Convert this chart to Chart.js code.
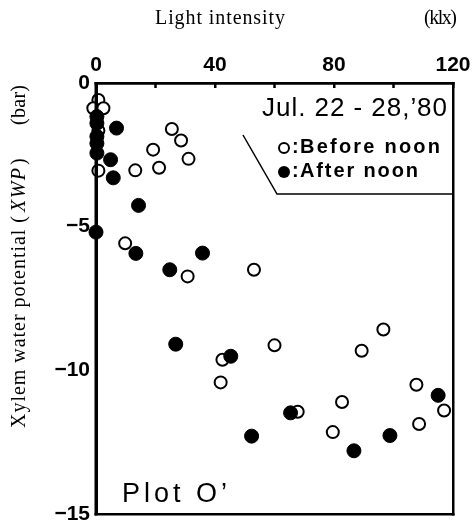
<!DOCTYPE html>
<html>
<head>
<meta charset="utf-8">
<script src="https://cdn.jsdelivr.net/npm/chart.js@4.4.1/dist/chart.umd.min.js"></script>
<style>
  html, body { margin: 0; padding: 0; background: #fff; overflow: hidden; }
  #wrap { width: 474px; height: 530px; position: relative; }
  #frame {
    position: absolute; left: 95px; top: 82px; width: 359px; height: 433px;
    box-sizing: border-box; border: 2px solid #000; border-left-width: 3px;
    pointer-events: none;
  }
</style>
</head>
<body>
<div id="wrap"><canvas id="xwp-chart"></canvas><div id="frame"></div></div>
<script>
// light intensity (klx) vs xylem water potential (bar)
const beforeX = [0.8, -0.9, 2.5, 0.8, 0.8, 25.5, 28.6, 19.2, 31.1, 13.2, 21.2, 9.8, 30.8, 53.1, 42.5, 60.0, 96.6, 89.3, 41.9, 107.7, 117.0, 82.7, 67.8, 79.6, 108.6];
const beforeY = [-0.59, -0.88, -0.88, -1.66, -3.05, -1.6, -2.0, -2.32, -2.64, -3.04, -2.95, -5.58, -6.73, -6.5, -9.63, -9.13, -8.58, -9.32, -10.42, -10.5, -11.4, -11.1, -11.44, -12.15, -11.87];
const afterX  = [0.3, 0.3, 0.3, 0.3, 0.3, 6.9, 4.9, 5.8, 14.3, 0, 13.4, 35.8, 24.8, 26.8, 45.3, 115.0, 65.4, 52.3, 98.8, 86.7];
const afterY  = [-1.17, -1.4, -1.86, -2.1, -2.44, -1.57, -2.67, -3.3, -4.26, -5.19, -5.93, -5.92, -6.5, -9.09, -9.51, -10.87, -11.48, -12.29, -12.27, -12.8];
const xTicks  = [0, 20, 40, 60, 80, 100, 120];   // labelled every 40
const yTicks  = [0, -5, -10, -15];

const seriesNames = ['Before noon', 'After noon'];
const dateLabel   = 'Jul. 22 - 28,\u201980';
const plotLabel   = 'Plot O\u2019';

const toPts = (xs, ys) => xs.map((x, i) => ({ x, y: ys[i] }));

const SANS  = '"Liberation Sans", Arial, sans-serif';
const SERIF = '"Liberation Serif", "Times New Roman", serif';

// draw text char by char so it spreads over a given width
function spacedText(ctx, txt, x, y, width) {
  const chars = [...txt];
  const ws = chars.map(c => ctx.measureText(c).width);
  const total = ws.reduce((s, w) => s + w, 0);
  const sp = chars.length > 1 ? (width - total) / (chars.length - 1) : 0;
  let cx = x;
  chars.forEach((c, i) => { ctx.fillText(c, cx, y); cx += ws[i] + sp; });
}

const decor = {
  id: 'decor',
  afterDraw(chart) {
    const { ctx, chartArea: a, scales: { x } } = chart;
    const L = Math.round(a.left), R = Math.round(a.right), T = Math.round(a.top), B = Math.round(a.bottom);
    ctx.save();
    ctx.fillStyle = '#000';
    ctx.strokeStyle = '#000';

    // axis titles
    ctx.textBaseline = 'middle';
    ctx.textAlign = 'left';
    ctx.font = '20px ' + SERIF;
    spacedText(ctx, 'Light intensity', 155, 19, 130);
    spacedText(ctx, '(klx)', 424, 19, 33);

    ctx.save();
    ctx.translate(20, 0);
    ctx.rotate(-Math.PI / 2);
    ctx.font = '20px ' + SERIF;
    spacedText(ctx, 'Xylem water potential (', -428, 0, 212);
    ctx.font = 'italic 20px ' + SERIF;
    spacedText(ctx, 'XWP', -212, 0, 44);
    ctx.font = '20px ' + SERIF;
    ctx.fillText(')', -165, 0);
    spacedText(ctx, '(bar)', -125, 0, 40);
    ctx.restore();

    ctx.font = '500 26px ' + SANS;
    spacedText(ctx, dateLabel, 262, 109, 185);

    // legend markers + labels
    ctx.lineWidth = 2;
    ctx.beginPath(); ctx.arc(284, 148, 5, 0, Math.PI * 2); ctx.stroke();
    ctx.beginPath(); ctx.arc(284, 172, 6, 0, Math.PI * 2); ctx.fill();
    ctx.font = 'bold 20px ' + SANS;
    ctx.fillText(':', 292, 147);
    ctx.fillText(':', 292, 171);
    spacedText(ctx, seriesNames[0], 300, 147, 140);
    spacedText(ctx, seriesNames[1], 300, 171, 118);

    ctx.font = '27px ' + SANS;
    spacedText(ctx, plotLabel, 122, 495, 105);

    // legend box outline
    ctx.lineWidth = 1.5;
    ctx.beginPath();
    ctx.moveTo(243, 135); ctx.lineTo(277, 194); ctx.lineTo(R, 194);
    ctx.stroke();

    // frame + inward top ticks
    ctx.fillRect(L - 1.5, T - 1, R - L + 3, 2.5);
    ctx.fillRect(L - 1.5, B - 1, R - L + 3, 2.5);
    ctx.fillRect(L - 1.5, T - 1, 3, B - T + 2.5);
    ctx.fillRect(R - 1, T - 1, 2.5, B - T + 2.5);
    xTicks.forEach(v => {
      const px = x.getPixelForValue(v);
      ctx.fillRect(px - 1, T, 2, 5);
    });

    ctx.restore();
  }
};

new Chart(document.getElementById('xwp-chart'), {
  type: 'scatter',
  data: {
    datasets: [
      {
        label: seriesNames[1],
        data: toPts(afterX, afterY),
        pointStyle: 'circle', pointRadius: 7, pointHoverRadius: 7,
        backgroundColor: '#000', borderColor: '#000', borderWidth: 1
      },
      {
        label: seriesNames[0],
        data: toPts(beforeX, beforeY),
        pointStyle: 'circle', pointRadius: 6, pointHoverRadius: 6,
        backgroundColor: '#fff', borderColor: '#000', borderWidth: 2
      }
    ]
  },
  options: {
    responsive: true, maintainAspectRatio: false,
    animation: false,
    events: [],
    clip: false,
    layout: { padding: { left: 0, top: 0, right: 21, bottom: 16 } },
    plugins: { legend: { display: false }, tooltip: { enabled: false } },
    scales: {
      x: {
        type: 'linear', position: 'top', min: 0, max: 120,
        afterFit: s => { s.height = 83; s.paddingLeft = 0; s.paddingRight = 0; },
        afterBuildTicks: s => { s.ticks = xTicks.map(v => ({ value: v })); },
        grid: { display: true, drawOnChartArea: false, drawTicks: true, tickLength: -5, tickWidth: 2, tickColor: '#000' },
        border: { display: true, color: '#000', width: 2.5 },
        ticks: {
          padding: 10, color: '#000', font: { family: SANS, size: 21, weight: 'bold' },
          callback: v => v % 40 === 0 ? String(v) : ''
        }
      },
      y: {
        type: 'linear', min: -15, max: 0,
        afterFit: s => { s.width = 96; s.paddingTop = 0; s.paddingBottom = 0; },
        afterBuildTicks: s => { s.ticks = yTicks.map(v => ({ value: v })); },
        grid: { display: false, drawTicks: false },
        border: { display: true, color: '#000', width: 3 },
        ticks: {
          padding: 6, color: '#000', font: { family: SANS, size: 21, weight: 'bold' },
          callback: v => v < 0 ? '\u2212' + Math.abs(v) : String(v)
        }
      }
    }
  },
  plugins: [decor]
});
</script>
</body>
</html>
